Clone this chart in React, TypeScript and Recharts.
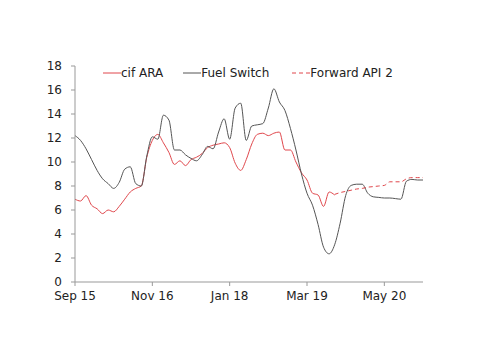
import { LineChart, Line, XAxis, YAxis, Legend } from 'recharts';

// months since Sep 2015
const tickMonths = [0, 14, 28, 42, 56];
const tickLabels = ['Sep 15', 'Nov 16', 'Jan 18', 'Mar 19', 'May 20'];
const yTicks = [0, 2, 4, 6, 8, 10, 12, 14, 16, 18];

const cifAra = [
  6.9, 6.75, 7.2, 6.4, 6.1, 5.7, 6.0, 5.85, 6.3, 6.9, 7.5, 7.8,
  8.0, 10.4, 11.8, 12.3, 11.6, 10.8, 9.8, 10.1, 9.7, 10.2, 10.4, 10.7,
  11.2, 11.4, 11.5, 11.6, 11.2, 9.9, 9.3, 10.2, 11.5, 12.3, 12.4, 12.2,
  12.4, 12.5, 11.0, 11.0, 10.0, 9.1, 8.5, 7.4, 7.25, 6.3, 7.5, 7.25,
];

const fuelSwitch = [
  12.2, 11.8, 11.1, 10.2, 9.3, 8.6, 8.2, 7.8, 8.3, 9.4, 9.6, 8.2,
  8.0, 10.5, 12.1, 11.9, 13.9, 13.5, 11.0, 11.0, 10.6, 10.3, 10.1, 10.6,
  11.3, 11.1, 12.5, 13.6, 11.9, 14.5, 14.9, 11.8, 13.0, 13.1, 13.2, 14.5,
  16.1, 15.0, 14.3, 12.8, 11.0, 9.0, 7.4, 6.4, 4.8, 2.9, 2.35, 3.1,
  4.9, 7.2, 8.05, 8.15, 8.15, 7.4, 7.1, 7.05, 7.0, 7.0, 6.95, 6.9,
  8.4, 8.55, 8.5, 8.5,
];

// starts at month 47
const forwardStart = 47;
const forwardApi2 = [
  7.3, 7.45, 7.55, 7.65, 7.75, 7.8, 7.9, 7.95, 8.0, 8.05, 8.35, 8.35,
  8.35, 8.6, 8.7, 8.7, 8.7,
];

const legendOrder = ['cif', 'fuel', 'fwd'];

const data = fuelSwitch.map((v, i) => ({
  m: i,
  cif: i < cifAra.length ? cifAra[i] : null,
  fuel: v,
  fwd: i >= forwardStart ? forwardApi2[i - forwardStart] : null,
}));

const RED = '#e0474c';
const GRAY = '#555555';
const AXIS = '#999999';
const FONT = 'DejaVu Sans, Verdana, sans-serif';

function renderLegend(props: any) {
  const items = [...props.payload].sort(
    (a: any, b: any) => legendOrder.indexOf(a.dataKey) - legendOrder.indexOf(b.dataKey)
  );
  return (
    <div style={{ display: 'flex', fontFamily: FONT, fontSize: 12, color: '#222', whiteSpace: 'nowrap' }}>
      {items.map((p: any, i: number) => (
        <div key={i} style={{ display: 'flex', alignItems: 'center', marginRight: i === 0 ? 20 : 23 }}>
          <svg width={18} height={10}>
            <line
              x1={0}
              y1={5}
              x2={18}
              y2={5}
              stroke={p.color}
              strokeWidth={1}
              strokeDasharray={p.payload.strokeDasharray}
            />
          </svg>
          <span>{p.value}</span>
        </div>
      ))}
    </div>
  );
}

export default function App() {
  return (
    <LineChart
      width={484}
      height={338}
      data={data}
      margin={{ top: 58, right: 69, bottom: 34, left: 27 }}
      style={{ fontFamily: FONT }}
    >
      <XAxis
        dataKey="m"
        type="number"
        domain={[0, 63]}
        ticks={tickMonths}
        tickFormatter={(v) => tickLabels[tickMonths.indexOf(v)]}
        stroke={AXIS}
        tick={{ fill: '#222', fontSize: 12 }}
        tickSize={4}
        tickMargin={5}
        height={30}
      />
      <YAxis
        domain={[0, 18]}
        ticks={yTicks}
        stroke={AXIS}
        tick={{ fill: '#222', fontSize: 12 }}
        tickSize={4}
        tickMargin={9}
        width={40}
        interval={0}
      />
      <Legend
        layout="horizontal"
        verticalAlign="middle"
        align="center"
        content={renderLegend}
        wrapperStyle={{ top: 58, left: 95, width: 360 }}
      />
      <Line
        type="monotone"
        dataKey="cif"
        name="cif ARA"
        stroke={RED}
        strokeWidth={1}
        dot={false}
        isAnimationActive={false}
      />
      <Line
        type="monotone"
        dataKey="fuel"
        name="Fuel Switch"
        stroke={GRAY}
        strokeWidth={1}
        dot={false}
        isAnimationActive={false}
      />
      <Line
        type="monotone"
        dataKey="fwd"
        name="Forward API 2"
        stroke={RED}
        strokeWidth={1}
        strokeDasharray="4 3"
        dot={false}
        isAnimationActive={false}
      />
    </LineChart>
  );
}
